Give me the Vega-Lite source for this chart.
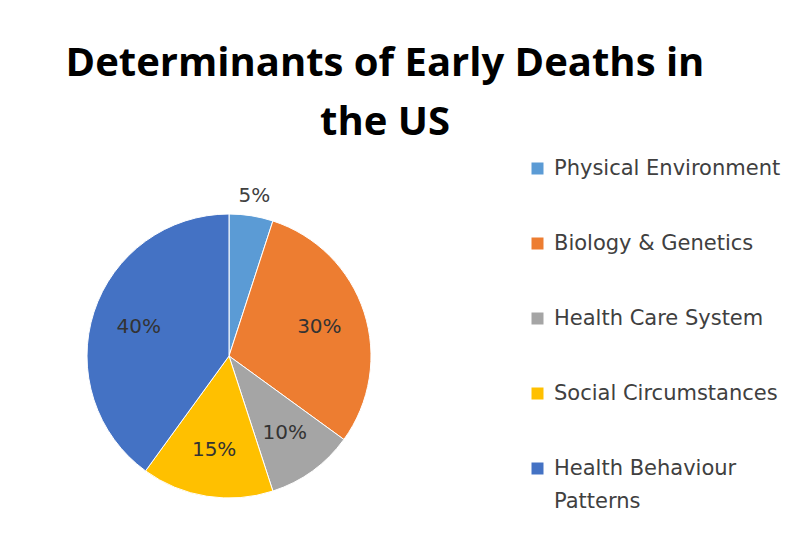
{
  "$schema": "https://vega.github.io/schema/vega-lite/v6.json",
  "autosize": {"type": "none"},
  "width": 284,
  "height": 284,
  "padding": {"left": 87, "top": 214, "right": 434, "bottom": 47},
  "background": "white",
  "config": {"view": {"stroke": null}, "style": {"guide-label": {"lineHeight": 33}}},
  "title": {
    "text": ["Determinants of Early Deaths in", "the US"],
    "anchor": "middle",
    "frame": "group",
    "dx": 156,
    "offset": 15,
    "font": "Open Sans",
    "fontSize": 40,
    "fontWeight": "bold",
    "lineHeight": 59,
    "color": "#000000"
  },
  "data": {
    "values": [
      {"category": "Physical Environment", "value": 0.05, "rank": 1},
      {"category": "Biology & Genetics", "value": 0.30, "rank": 2},
      {"category": "Health Care System", "value": 0.10, "rank": 3},
      {"category": "Social Circumstances", "value": 0.15, "rank": 4},
      {"category": "Health Behaviour Patterns", "value": 0.40, "rank": 5}
    ]
  },
  "encoding": {
    "theta": {"field": "value", "type": "quantitative", "stack": true},
    "order": {"field": "rank", "type": "quantitative"}
  },
  "layer": [
    {
      "mark": {"type": "arc", "stroke": "white", "strokeWidth": 1},
      "encoding": {
        "color": {
          "field": "category",
          "type": "nominal",
          "scale": {
            "domain": ["Physical Environment", "Biology & Genetics", "Health Care System", "Social Circumstances", "Health Behaviour Patterns"],
            "range": ["#5B9BD5", "#ED7D31", "#A5A5A5", "#FFC000", "#4472C4"]
          },
          "legend": {
            "orient": "none",
            "legendX": 440,
            "legendY": -56,
            "title": null,
            "padding": 0,
            "symbolType": "square",
            "symbolSize": 144,
            "symbolStrokeWidth": 0,
            "labelFont": "DejaVu Sans",
            "labelFontSize": 21,
            "labelColor": "#404040",
            "labelOffset": 6,
            "labelLimit": 400,
            "rowPadding": 53,
            "labelExpr": "datum.label == 'Health Behaviour Patterns' ? ['Health Behaviour', 'Patterns'] : datum.label",
            "encode": {"labels": {"enter": {"lineHeight": {"value": 33}}, "update": {"lineHeight": {"value": 33}}}}
          }
        }
      }
    },
    {
      "mark": {"type": "text", "radius": 95, "font": "DejaVu Sans", "fontSize": 20, "color": "#333333"},
      "encoding": {
        "text": {"condition": {"test": "datum.value >= 0.1", "field": "value", "format": ".0%"}, "value": ""}
      }
    },
    {
      "mark": {"type": "text", "radius": 162, "font": "DejaVu Sans", "fontSize": 20, "color": "#404040"},
      "encoding": {
        "text": {"condition": {"test": "datum.value < 0.1", "field": "value", "format": ".0%"}, "value": ""}
      }
    }
  ]
}
